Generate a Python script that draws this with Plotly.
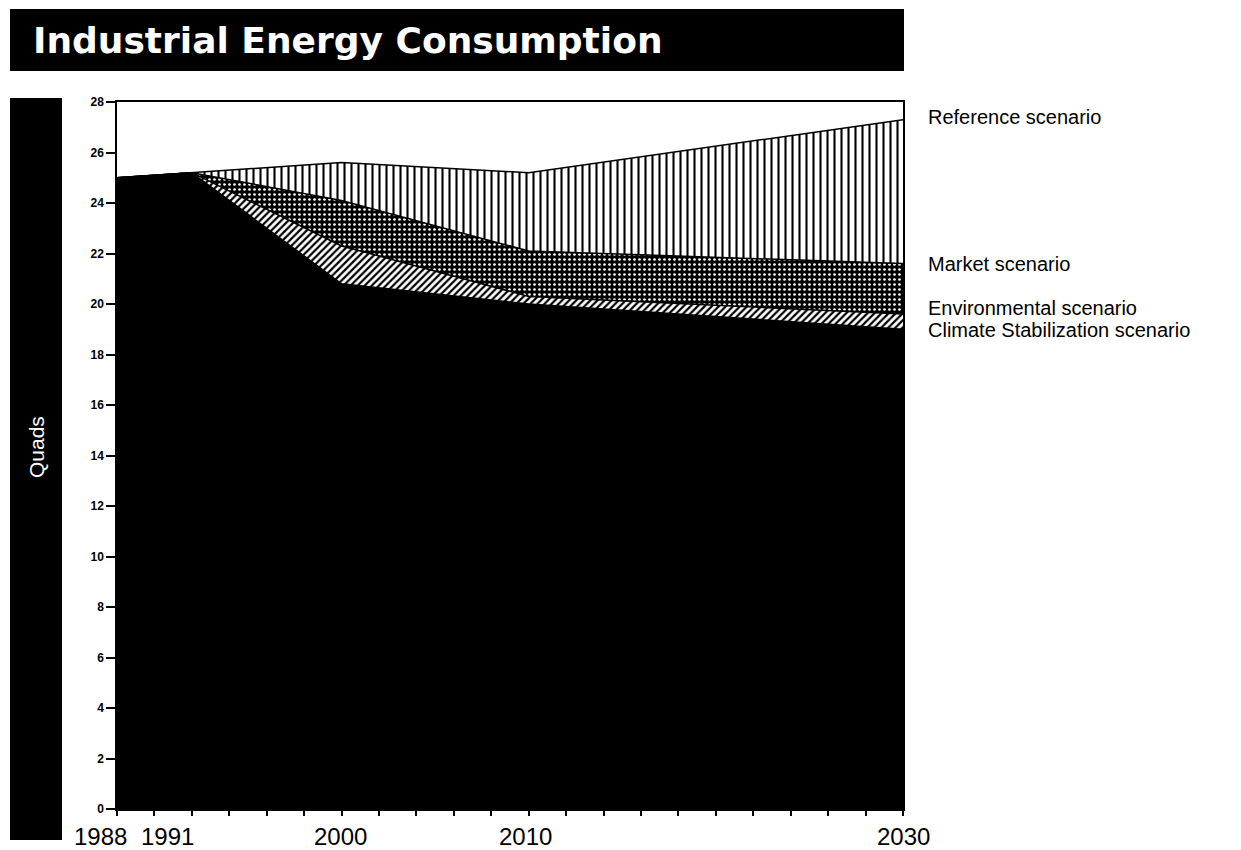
import plotly.graph_objects as go

# ---- data ----
years = [1988, 1992, 2000, 2010, 2030]
climate = [25.0, 25.2, 20.8, 20.0, 19.0]
environmental = [25.0, 25.2, 22.3, 20.3, 19.6]
market = [25.0, 25.2, 24.1, 22.1, 21.6]
reference = [25.0, 25.2, 25.6, 25.2, 27.3]

x_label_years = [1988, 1991, 2000, 2010, 2030]
x_label_text = ["1988", "1991", "2000", "2010", "2030"]
x_label_shift = [-17, -6, -1, -3, 0]

scenario_labels = ["Reference scenario", "Market scenario",
                   "Environmental scenario", "Climate Stabilization scenario"]
scenario_label_y = [117, 264, 308, 330]

title_text = "Industrial Energy Consumption"
y_title = "Quads"

# ---- layout geometry ----
W, H = 1241, 850
L, R, T, B = 117, 338, 102, 41
pw, ph = W - L - R, H - T - B


def px(x):
    return (x - L) / pw


def py(y):
    return (H - B - y) / ph


FONT = "Liberation Sans, Arial, Helvetica, sans-serif"
TITLE_FONT = "DejaVu Sans, Liberation Sans, sans-serif"

fig = go.Figure()

fig.add_trace(go.Scatter(
    x=years, y=climate, mode="lines", fill="tozeroy",
    fillcolor="black", line=dict(color="black", width=1.5),
    hoverinfo="skip", showlegend=False))

fig.add_trace(go.Scatter(
    x=years, y=environmental, mode="lines", fill="tonexty",
    line=dict(color="black", width=1.5),
    fillpattern=dict(shape="/", fgcolor="black", bgcolor="white",
                     size=5, solidity=0.45, fillmode="replace"),
    hoverinfo="skip", showlegend=False))

fig.add_trace(go.Scatter(
    x=years, y=market, mode="lines", fill="tonexty",
    line=dict(color="black", width=1.5),
    fillpattern=dict(shape=".", fgcolor="white", bgcolor="black",
                     size=5, solidity=0.22, fillmode="replace"),
    hoverinfo="skip", showlegend=False))

fig.add_trace(go.Scatter(
    x=years, y=reference, mode="lines", fill="tonexty",
    line=dict(color="black", width=1.5),
    fillpattern=dict(shape="|", fgcolor="black", bgcolor="white",
                     size=7, solidity=0.3, fillmode="replace"),
    hoverinfo="skip", showlegend=False))

annotations = []
# title
annotations.append(dict(
    text="<b>" + title_text + "</b>", xref="paper", yref="paper",
    x=px(31), y=py(40), xanchor="left", yanchor="middle", showarrow=False,
    font=dict(family=TITLE_FONT, size=36, color="white")))
# y-axis title in the black side bar
annotations.append(dict(
    text=y_title, xref="paper", yref="paper", x=px(36), y=py(447),
    xanchor="center", yanchor="middle", textangle=-90, showarrow=False,
    font=dict(family=FONT, size=21, color="white")))
# x labels
for yr, txt, sh in zip(x_label_years, x_label_text, x_label_shift):
    annotations.append(dict(
        text=txt, xref="x", yref="paper", x=yr, y=py(836), xshift=sh,
        xanchor="center", yanchor="middle", showarrow=False,
        font=dict(family=FONT, size=24, color="black")))
# scenario labels
for txt, yy in zip(scenario_labels, scenario_label_y):
    annotations.append(dict(
        text=txt, xref="paper", yref="paper", x=px(926), y=py(yy),
        xanchor="left", yanchor="middle", showarrow=False,
        font=dict(family=FONT, size=20, color="black")))

shapes = [
    dict(type="rect", xref="paper", yref="paper",
         x0=px(10), x1=px(904), y0=py(71), y1=py(9),
         fillcolor="black", line=dict(width=0), layer="below"),
    dict(type="rect", xref="paper", yref="paper",
         x0=px(10), x1=px(62), y0=py(840), y1=py(98),
         fillcolor="black", line=dict(width=0), layer="below"),
]

fig.update_layout(
    width=W, height=H, autosize=False,
    margin=dict(l=L, r=R, t=T, b=B, pad=0),
    paper_bgcolor="white", plot_bgcolor="white",
    annotations=annotations, shapes=shapes,
    xaxis=dict(range=[1988, 2030], tick0=1988, dtick=2, ticks="outside",
               ticklen=5, tickcolor="black", tickwidth=1.5,
               showticklabels=False, showgrid=False, zeroline=False,
               showline=True, linecolor="black", linewidth=1.5, mirror=True),
    yaxis=dict(range=[0, 28], tick0=0, dtick=2, ticks="outside",
               ticklen=9, tickcolor="black", tickwidth=1.5,
               tickfont=dict(family=FONT, size=12, color="black", weight="bold"),
               showgrid=False, zeroline=False,
               showline=True, linecolor="black", linewidth=1.5, mirror=True),
)

fig.write_html(
    "out.html",
    config={"displayModeBar": False},
    post_script="document.body.style.margin='0';document.body.style.overflow='hidden';")
